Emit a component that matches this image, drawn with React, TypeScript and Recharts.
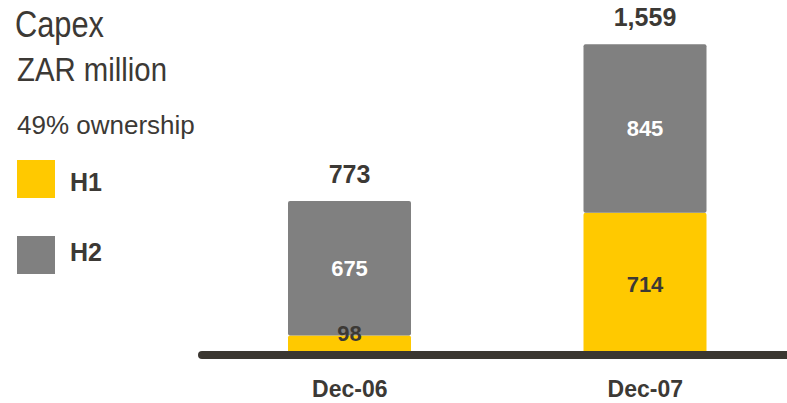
import { BarChart, Bar, XAxis, YAxis, LabelList } from 'recharts';

const categories = ['Dec-06', 'Dec-07'];
const h1Values = [98, 714];
const h2Values = [675, 845];
const totals = [773, 1559];
const seriesNames = ['H1', 'H2'];
const seriesColors = ['#FFC900', '#808080'];

const DARK = '#3c3935';
const SANS = "'Liberation Sans', Arial, sans-serif";

const data = categories.map((name, i) => ({
  name,
  H1: h1Values[i],
  H2: h2Values[i],
  total: totals[i],
}));

const TotalLabel = (props: any) => {
  const { x, y, width, value } = props;
  return (
    <text
      x={Number(x) + Number(width) / 2}
      y={Number(y) - 18}
      textAnchor="middle"
      fontSize={25}
      fontWeight={700}
      fill={DARK}
      fontFamily={SANS}
    >
      {Number(value).toLocaleString('en-US')}
    </text>
  );
};

const makeInnerLabel = (color: string) => (props: any) => {
  const { x, y, width, height, value } = props;
  // short segments get their label pushed up to the top edge
  const cy = Number(height) < 30 ? Number(y) - 2 : Number(y) + Number(height) / 2;
  return (
    <text
      x={Number(x) + Number(width) / 2}
      y={cy}
      dy="0.35em"
      textAnchor="middle"
      fontSize={22}
      fontWeight={700}
      fill={color}
      fontFamily={SANS}
    >
      {value}
    </text>
  );
};

const CategoryTick = (props: any) => {
  const { x, y, payload } = props;
  return (
    <text x={x} y={y + 42} textAnchor="middle" fontSize={23} fontWeight={700} fill={DARK} fontFamily={SANS}>
      {payload.value}
    </text>
  );
};

export default function App() {
  return (
    <div style={{ position: 'absolute', left: 0, top: 0, width: 787, height: 403, overflow: 'hidden', background: '#fff' }}>
      <BarChart
        width={793}
        height={403}
        data={data}
        margin={{ top: 36, right: 0, left: 202, bottom: 0 }}
      >
        <YAxis hide domain={[0, 1600]} />
        <XAxis
          dataKey="name"
          height={48}
          tickLine={false}
          tickSize={0}
          tickMargin={0}
          axisLine={{ stroke: '#3b3731', strokeWidth: 8, strokeLinecap: 'round' }}
          tick={<CategoryTick />}
        />
        <Bar dataKey="H1" stackId="a" fill={seriesColors[0]} barSize={123} radius={2} isAnimationActive={false}>
          <LabelList dataKey="H1" content={makeInnerLabel(DARK)} />
        </Bar>
        <Bar dataKey="H2" stackId="a" fill={seriesColors[1]} barSize={123} radius={2} isAnimationActive={false}>
          <LabelList dataKey="H2" content={makeInnerLabel('#ffffff')} />
          <LabelList dataKey="total" content={TotalLabel} />
        </Bar>
      </BarChart>
      <svg width={787} height={403} style={{ position: 'absolute', left: 0, top: 0, pointerEvents: 'none' }}>
        <text x={15} y={37} fontSize={36} fill={DARK} fontFamily={SANS} textLength={89} lengthAdjust="spacingAndGlyphs">
          Capex
        </text>
        <text x={17} y={81} fontSize={33} fill={DARK} fontFamily={SANS} textLength={150} lengthAdjust="spacingAndGlyphs">
          ZAR million
        </text>
        <text x={17} y={134} fontSize={26} fill={DARK} fontFamily={SANS}>49% ownership</text>
        {seriesNames.map((name, i) => (
          <g key={name}>
            <rect x={17} y={160 + i * 76} width={38} height={38} fill={seriesColors[i]} />
            <text x={70} y={191 + i * 70} fontSize={25} fontWeight={700} fill={DARK} fontFamily={SANS}>
              {name}
            </text>
          </g>
        ))}
      </svg>
    </div>
  );
}
